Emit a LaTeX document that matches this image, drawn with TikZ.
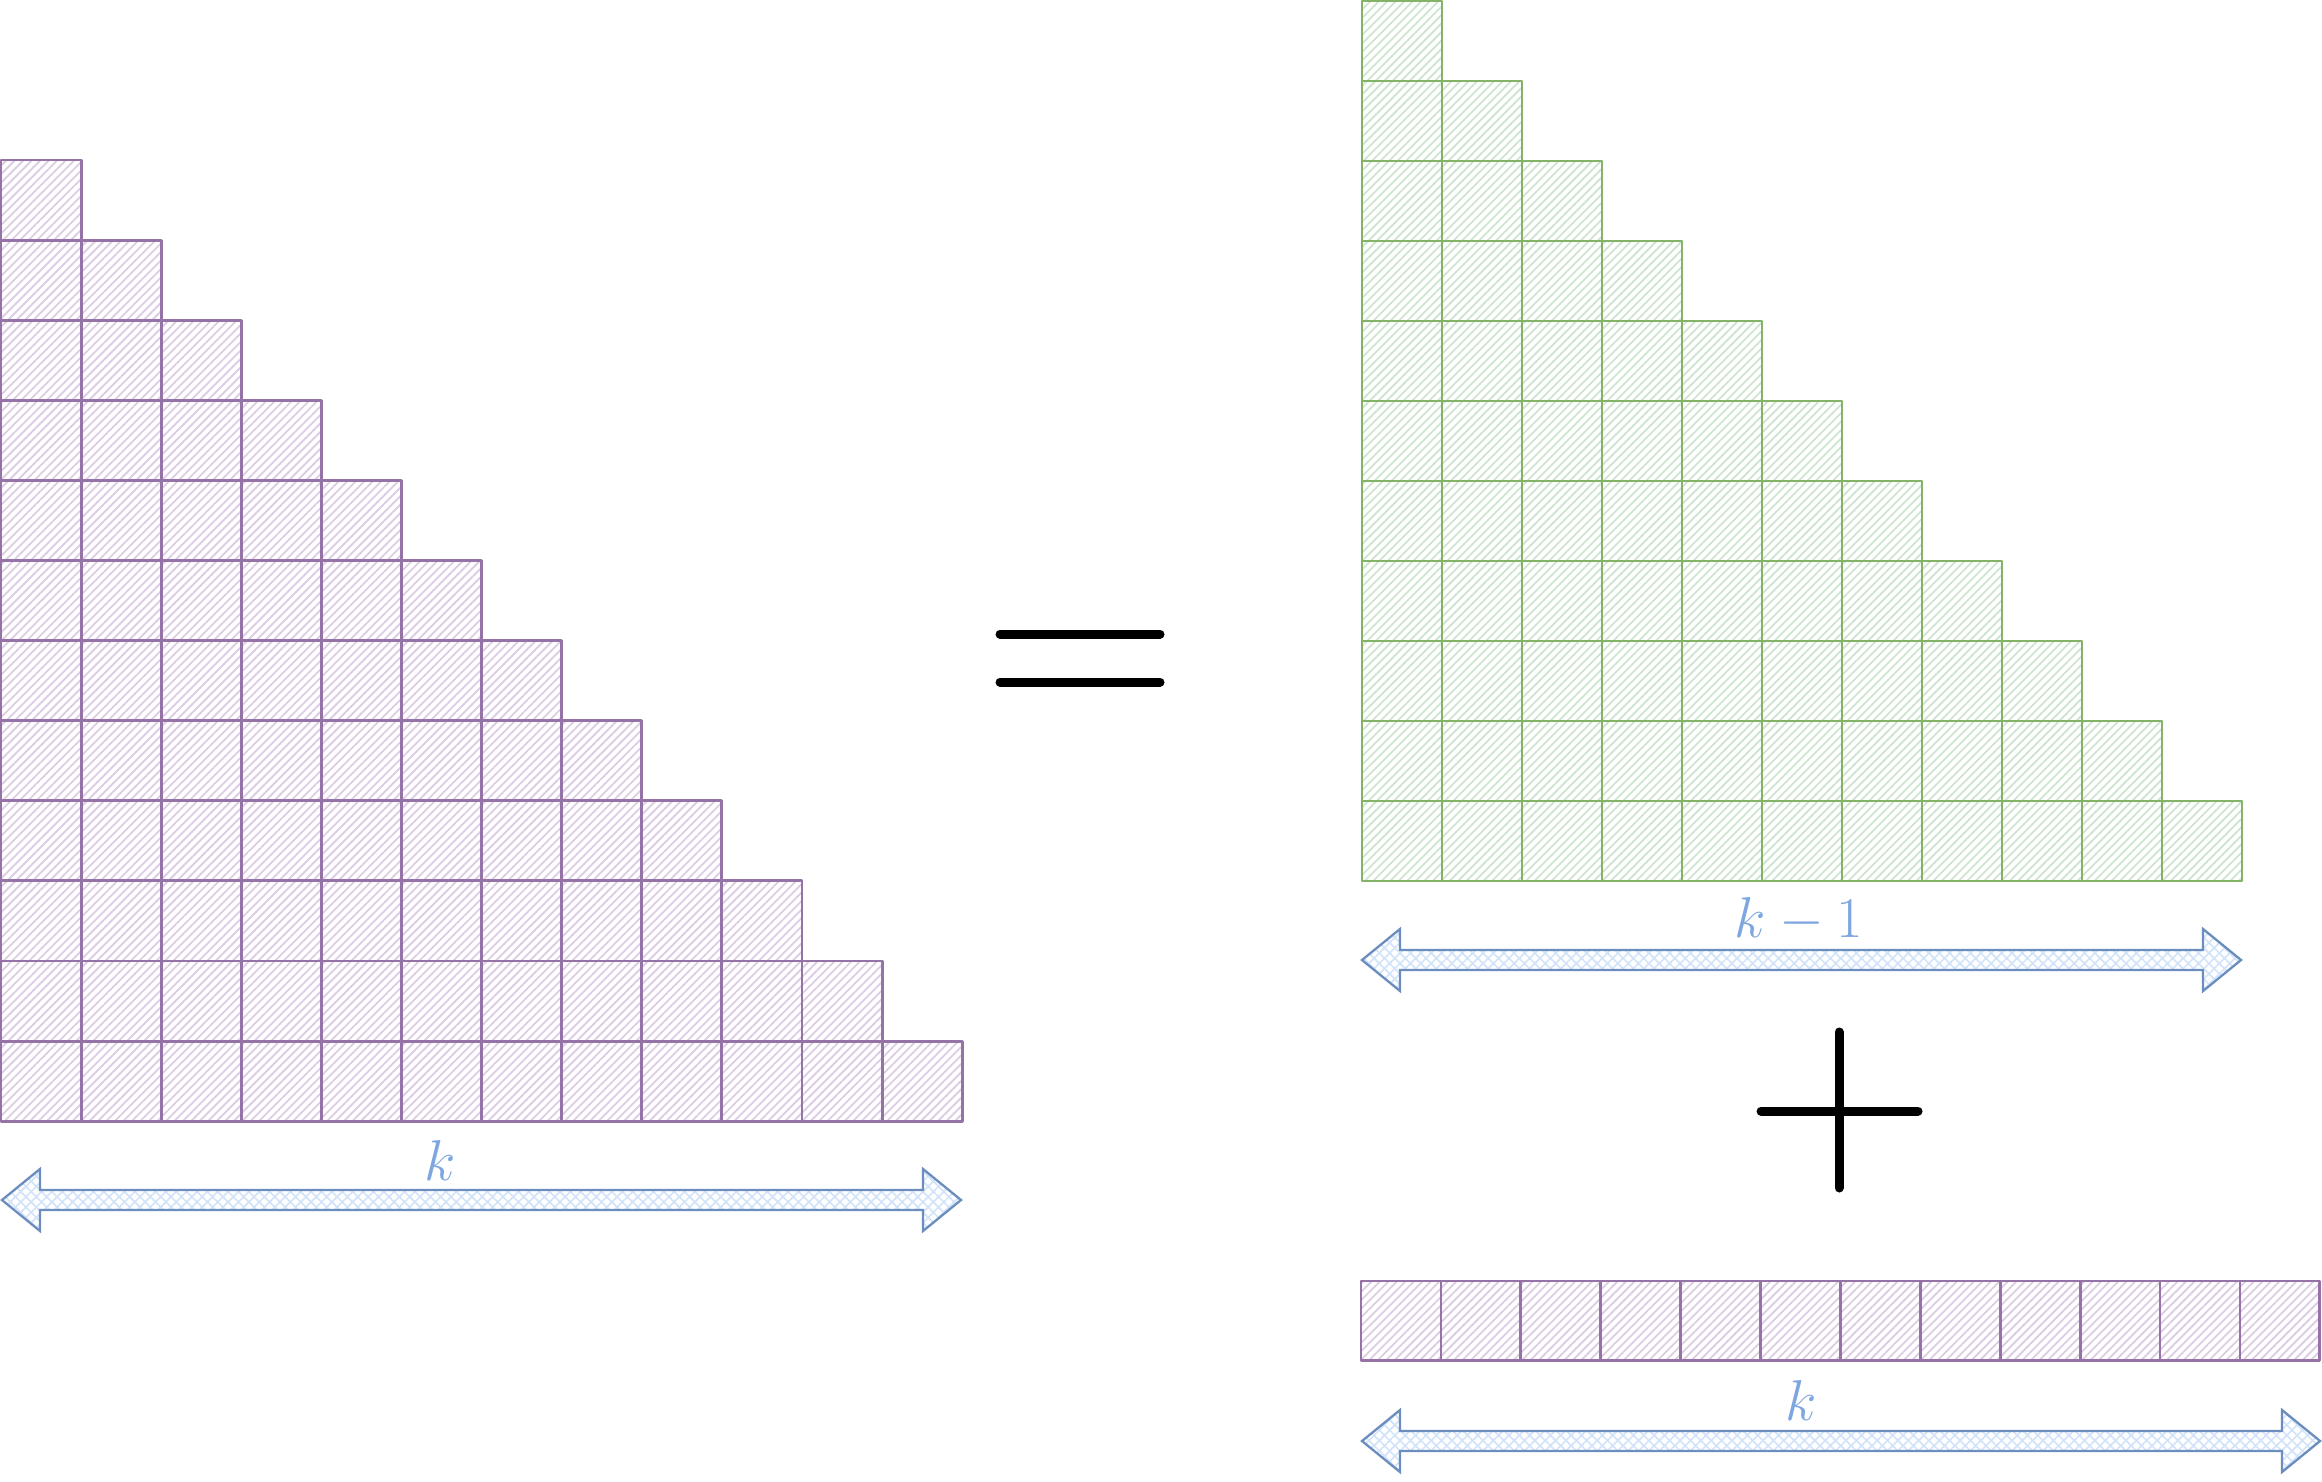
\documentclass[tikz,border=0pt]{standalone}
\usetikzlibrary{patterns.meta}
\definecolor{purpS}{HTML}{9673A6}
\definecolor{purpF}{HTML}{DCCDE4}
\definecolor{grnS}{HTML}{82B366}
\definecolor{grnF}{HTML}{CFE4CE}
\definecolor{bluS}{HTML}{6C8EBF}
\definecolor{bluF}{HTML}{D2E3FA}
\definecolor{txtC}{HTML}{7EA6E0}
\tikzset{
  purplecell/.style={draw=purpS, line width=0.85pt, line join=round,
    pattern={Lines[angle=45,distance=1.8pt,line width=0.55pt]}, pattern color=purpF},
  greencell/.style={draw=grnS, line width=0.85pt, line join=round,
    pattern={Lines[angle=45,distance=1.8pt,line width=0.55pt]}, pattern color=grnF},
  dblarrow/.style={draw=bluS, line width=0.7pt, line join=miter,
    pattern={Hatch[angle=45,distance=2.2pt,line width=0.5pt]}, pattern color=bluF},
  lbl/.style={text=txtC, font=\fontsize{17.4}{20}\selectfont, inner sep=0pt},
  bar/.style={line width=2.7pt, line cap=round, draw=black}
}
\begin{document}
\begin{tikzpicture}[x=0.3pt,y=-0.3pt]
\useasboundingbox (0,0) rectangle (2322,1482);
% left triangle
\foreach \r in {1,...,12}{
  \foreach \c in {1,...,\r}{
    \path[purplecell] ({(\c-1)*80.1+1},{160+(\r-1)*80.1}) rectangle ++(80.1,80.1);
  }
}
% green triangle
\foreach \r in {1,...,11}{
  \foreach \c in {1,...,\r}{
    \path[greencell] ({1362+(\c-1)*80},{1+(\r-1)*80}) rectangle ++(80,80);
  }
}
% purple row
\foreach \c in {1,...,12}{
  \path[purplecell] ({1361+(\c-1)*79.9},1281) rectangle ++(79.9,79.9);
}
% double arrows
\foreach \nm/\xa/\xb/\yy in {aL/2/961/1200, aR/1362/2241/960, aB/1362/2320/1441}{
  \coordinate (\nm-l) at (\xa,\yy);
  \coordinate (\nm-r) at (\xb,\yy);
  \draw[dblarrow] (\nm-l) -- (\xa+38,\yy-31) -- (\xa+38,\yy-10) -- (\xb-38,\yy-10)
    -- (\xb-38,\yy-31) -- (\nm-r) -- (\xb-38,\yy+31) -- (\xb-38,\yy+10)
    -- (\xa+38,\yy+10) -- (\xa+38,\yy+31) -- cycle;
}
% labels
\node[lbl] (kL) at (440,1160) {$k$};
\node[lbl] (kR) at (1799,920) {$k-1$};
\node[lbl] (kB) at (1801,1400) {$k$};
% equals sign
\coordinate (e1a) at (1000,634); \coordinate (e1b) at (1160,634);
\coordinate (e2a) at (1000,682); \coordinate (e2b) at (1160,682);
\draw[bar] (e1a) -- (e1b);
\draw[bar] (e2a) -- (e2b);
% plus sign
\coordinate (p1a) at (1839,1032); \coordinate (p1b) at (1839,1188);
\coordinate (p2a) at (1761,1111); \coordinate (p2b) at (1918,1111);
\draw[bar] (p1a) -- (p1b);
\draw[bar] (p2a) -- (p2b);
\end{tikzpicture}
\end{document}
